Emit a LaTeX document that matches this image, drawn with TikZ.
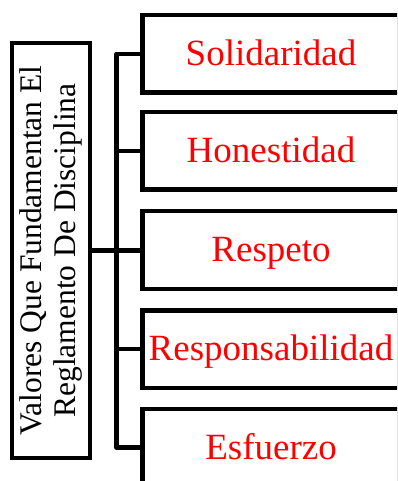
\documentclass[tikz,border=0pt]{standalone}
\usepackage{fontspec}
\setmainfont{Liberation Serif}
\begin{document}
\begin{tikzpicture}[x=1pt,y=-1pt,
  conn/.style={line width=4.4pt, line join=round},
  valbox/.style={draw, line width=4.4pt, minimum width=257pt, minimum height=77.5pt, inner sep=0pt, text=red, font=\fontsize{37}{40}\selectfont, text height=23pt, text depth=0pt},
  mainbox/.style={draw, line width=4.4pt, rotate=90, minimum width=415pt, minimum height=78pt, inner sep=0pt, align=center, font=\fontsize{31.5}{33.4}\selectfont}]
\useasboundingbox (0,0) rectangle (397,481);
\clip (0,0) rectangle (397,481);
\node[mainbox] (main) at (51,250.5) {Valores Que Fundamentan El\\Reglamento De Disciplina};
\node[valbox] (v1) at (271,53.75) {Solidaridad};
\node[valbox] (v2) at (271,150.75) {Honestidad};
\node[valbox] (v3) at (271,250) {Respeto};
\node[valbox] (v4) at (271,349.25) {Responsabilidad};
\node[valbox] (v5) at (271,447.5) {Esfuerzo};
\coordinate (bt) at (116.5,53.75);
\coordinate (bb) at (116.5,447.5);
\draw[conn] (v1.west) -- (bt) -- (bb) -- (v5.west);
\draw[conn] (main.south) -- (main.south -| v3.west);
\draw[conn] (bb |- v2.west) -- (v2.west);
\draw[conn] (bb |- v4.west) -- (v4.west);
\end{tikzpicture}
\end{document}
